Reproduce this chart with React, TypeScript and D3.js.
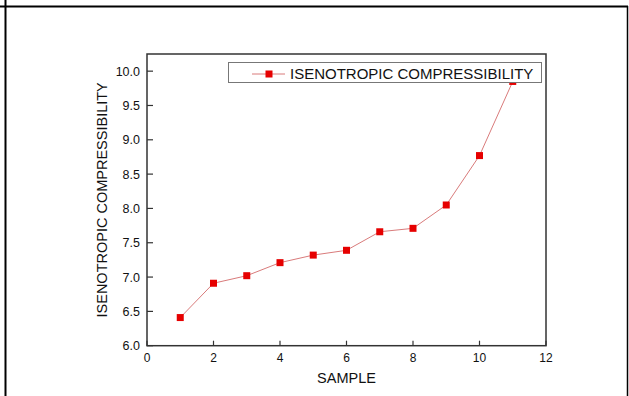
import React from "react";
import * as d3 from "d3";

const samples = [1, 2, 3, 4, 5, 6, 7, 8, 9, 10, 11];
const compressibility = [6.41, 6.91, 7.02, 7.21, 7.32, 7.39, 7.66, 7.71, 8.05, 8.77, 9.85];
const xTicks = [0, 2, 4, 6, 8, 10, 12];
const yTicks = [6.0, 6.5, 7.0, 7.5, 8.0, 8.5, 9.0, 9.5, 10.0];
const seriesName = "ISENOTROPIC COMPRESSIBILITY";
const xTitle = "SAMPLE";
const yTitle = "ISENOTROPIC COMPRESSIBILITY";

export default function App() {
  const W = 629, H = 396;
  const left = 147, right = 546, top = 54, bottom = 345.7;
  const x = d3.scaleLinear().domain([0, 12]).range([left, right]);
  const y = d3.scaleLinear().domain([6, 10.25]).range([bottom, top]);
  const line = d3.line<number>().x((_, i) => x(samples[i])).y((d) => y(d));
  const font = "'Liberation Sans', Arial, sans-serif";
  const ms = 7;
  return (
    <svg width={W} height={H} style={{ position: "absolute", left: 0, top: 0, background: "#fff" }}>
      <rect x={0} y={0} width={W} height={H} fill="#fff" />
      {/* page borders */}
      <line x1={0} x2={628} y1={6.5} y2={6.5} stroke="#000" strokeWidth={2} />
      <line x1={5.5} x2={5.5} y1={0} y2={H} stroke="#000" strokeWidth={2} />
      <line x1={627.5} x2={627.5} y1={6} y2={H} stroke="#000" strokeWidth={1.5} />

      {/* series */}
      <path d={line(compressibility) || ""} fill="none" stroke="#d97b7b" strokeWidth={1} />
      {compressibility.map((v, i) => (
        <rect key={i} x={x(samples[i]) - ms / 2} y={y(v) - ms / 2} width={ms} height={ms} fill="#e60000" />
      ))}

      {/* frame */}
      <rect x={left} y={top} width={right - left} height={bottom - top} fill="none" stroke="#333" strokeWidth={1.5} />

      {/* y ticks */}
      {yTicks.map((t) => (
        <g key={t}>
          <line x1={left} x2={left + 6} y1={y(t)} y2={y(t)} stroke="#333" strokeWidth={1.2} />
          <text x={140} y={y(t)} dy="0.36em" textAnchor="end" fontFamily={font} fontSize={12.5} fill="#111">
            {t.toFixed(1)}
          </text>
        </g>
      ))}
      {/* x ticks */}
      {xTicks.map((t) => (
        <g key={t}>
          <line x1={x(t)} x2={x(t)} y1={bottom} y2={bottom - 5} stroke="#333" strokeWidth={1.2} />
          <text x={x(t)} y={362} textAnchor="middle" fontFamily={font} fontSize={12} fill="#111">
            {t}
          </text>
        </g>
      ))}

      {/* axis titles */}
      <text x={(left + right) / 2} y={382.7} textAnchor="middle" fontFamily={font} fontSize={14.5} fill="#111">
        {xTitle}
      </text>
      <text
        transform={`translate(106.5, ${(top + bottom) / 2}) rotate(-90)`}
        textAnchor="middle"
        fontFamily={font}
        fontSize={14.5}
        fill="#111"
      >
        {yTitle}
      </text>

      {/* legend */}
      <rect x={228.5} y={62.5} width={313} height={20} fill="#fff" stroke="#777" strokeWidth={1} />
      <line x1={252} x2={285} y1={74} y2={74} stroke="#d97b7b" strokeWidth={1} />
      <rect x={269 - ms / 2} y={74 - ms / 2} width={ms} height={ms} fill="#e60000" />
      <text x={290} y={79.3} fontFamily={font} fontSize={15} fill="#111">
        {seriesName}
      </text>
    </svg>
  );
}
